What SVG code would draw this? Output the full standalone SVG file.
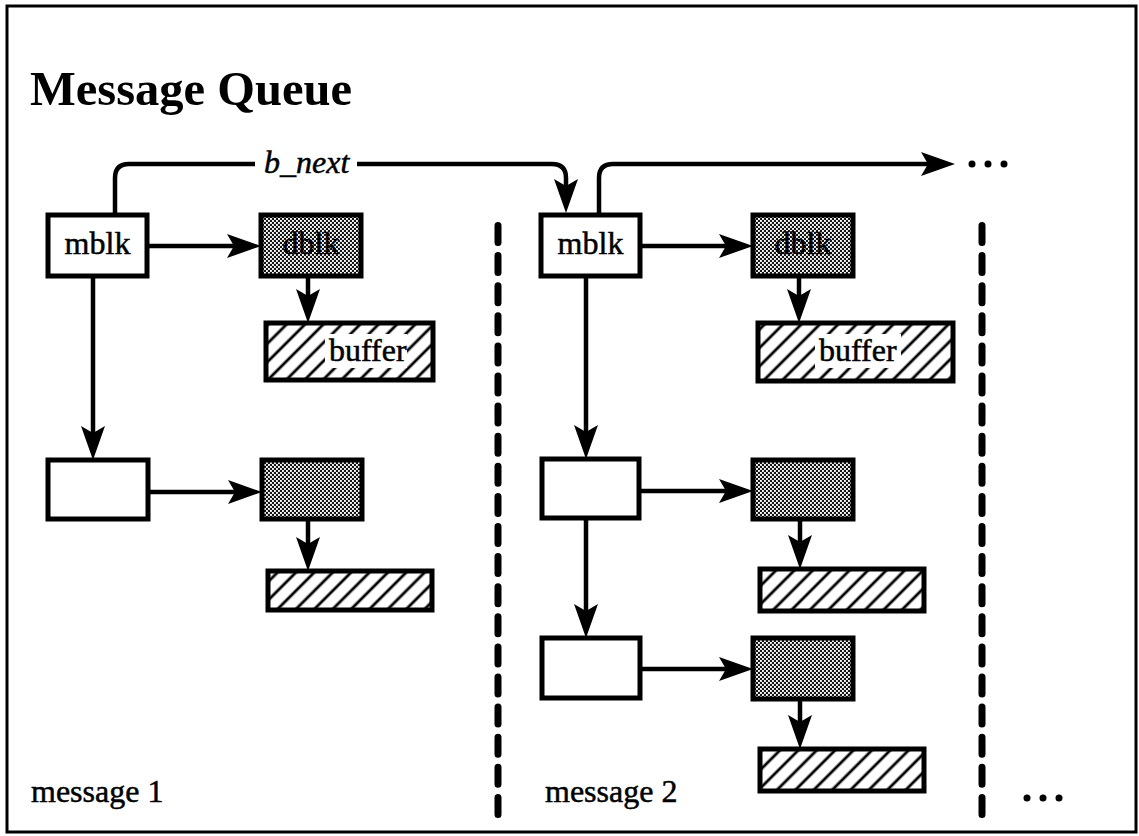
<svg xmlns="http://www.w3.org/2000/svg" width="1139" height="836" viewBox="0 0 1139 836">
<style>
  .box { fill: #fff; stroke: #000; stroke-width: 5; }
  .dblk { fill: url(#dither); stroke: #000; stroke-width: 5; }
  .buf { fill: url(#hatch); stroke: #000; stroke-width: 5; }
  .conn { fill: none; stroke: #000; stroke-width: 4.5; marker-end: url(#arrow); }
  .plain { fill: none; stroke: #000; stroke-width: 4.5; }
  .sep { stroke: #000; stroke-width: 7; stroke-linecap: round; stroke-dasharray: 17 13.1; }
  .t { font-family: "Liberation Serif", "Times New Roman", serif; font-size: 32px; fill: #000; stroke: #000; stroke-width: 0.5; }
  .td { font-family: "Liberation Serif", "Times New Roman", serif; font-size: 32px; fill: url(#dither2); stroke: #000; stroke-width: 0.6; }
  .title { font-family: "Liberation Serif", "Times New Roman", serif; font-size: 48.5px; font-weight: bold; fill: #000; }
</style>
<defs>
  <marker id="arrow" markerUnits="userSpaceOnUse" markerWidth="36" markerHeight="26" refX="23" refY="12" orient="auto" overflow="visible">
    <path d="M0,0 L34,12 L0,24 L7,12 Z" fill="#000"/>
  </marker>
  <pattern id="hatch" width="13" height="13" patternUnits="userSpaceOnUse" patternTransform="rotate(45)">
    <rect width="13" height="13" fill="#fff"/>
    <line x1="3" y1="0" x2="3" y2="13" stroke="#000" stroke-width="2.8"/>
  </pattern>
  <pattern id="dither" width="4" height="4" patternUnits="userSpaceOnUse">
    <rect width="4" height="4" fill="#151515"/>
    <rect x="0" y="0" width="1.9" height="1.9" fill="#fff"/>
    <rect x="2" y="2" width="1.9" height="1.9" fill="#fff"/>
  </pattern>
  <pattern id="dither2" width="4" height="4" patternUnits="userSpaceOnUse">
    <rect width="4" height="4" fill="#000"/>
    <rect x="0" y="0" width="0.8" height="0.8" fill="#fff"/>
  </pattern>
</defs>

<rect x="7" y="6" width="1129" height="826" fill="#fff" stroke="#000" stroke-width="3"/>

<text class="title" x="30" y="105">Message Queue</text>

<g id="separators">
  <line class="sep" x1="498" y1="225.5" x2="498" y2="814.5"/>
  <line class="sep" x1="982" y1="225.5" x2="982" y2="814.5"/>
</g>

<g id="connectors">
  <path class="plain" d="M115,215 V178 Q115,164 129,164 H255"/>
  <text class="t" x="264" y="173" font-style="italic">b_next</text>
  <path class="conn" d="M357,164 H552 Q566,164 566,178 V202"/>
  <path class="conn" d="M599,215 V178 Q599,164 613,164 H944"/>
  <g id="more-top">
    <circle cx="972" cy="164" r="3.5"/>
    <circle cx="988" cy="164" r="3.5"/>
    <circle cx="1004" cy="164" r="3.5"/>
  </g>
  <path class="conn" d="M147,246 H250"/>
  <path class="conn" d="M308,276 V312"/>
  <path class="conn" d="M93,276 V449"/>
  <path class="conn" d="M148,492 H251"/>
  <path class="conn" d="M308,519 V560"/>
  <path class="conn" d="M640,246 H742"/>
  <path class="conn" d="M799,276 V312"/>
  <path class="conn" d="M586,276 V448"/>
  <path class="conn" d="M639,491 H742"/>
  <path class="conn" d="M586,518 V627"/>
  <path class="conn" d="M640,669 H742"/>
  <path class="conn" d="M800,519 V558"/>
  <path class="conn" d="M800,699 V738"/>
</g>

<g id="m1-mblk"><rect class="box" x="48" y="215" width="99" height="61"/><text class="t" x="97.5" y="254" text-anchor="middle">mblk</text></g>
<g id="m1-dblk"><rect class="dblk" x="261" y="215" width="100" height="61"/><text class="td" x="311" y="254" text-anchor="middle">dblk</text></g>
<g id="m1-buffer"><rect class="buf" x="266" y="323" width="167" height="57"/><rect x="325" y="334" width="82" height="34" fill="#fff"/><text class="t" x="329" y="361">buffer</text></g>
<g id="m1-mblk2"><rect class="box" x="48" y="460" width="100" height="59"/></g>
<g id="m1-dblk2"><rect class="dblk" x="262" y="460" width="100" height="59"/></g>
<g id="m1-buffer2"><rect class="buf" x="268" y="571" width="164" height="39"/></g>

<g id="m2-mblk"><rect class="box" x="541" y="215" width="99" height="61"/><text class="t" x="590.5" y="254" text-anchor="middle">mblk</text></g>
<g id="m2-dblk"><rect class="dblk" x="753" y="215" width="100" height="61"/><text class="td" x="803" y="254" text-anchor="middle">dblk</text></g>
<g id="m2-buffer"><rect class="buf" x="758" y="323" width="195" height="58"/><rect x="815" y="334" width="86" height="34" fill="#fff"/><text class="t" x="819" y="361">buffer</text></g>
<g id="m2-mblk2"><rect class="box" x="542" y="459" width="97" height="59"/></g>
<g id="m2-dblk2"><rect class="dblk" x="753" y="460" width="100" height="59"/></g>
<g id="m2-buffer2"><rect class="buf" x="760" y="569" width="164" height="42"/></g>
<g id="m2-mblk3"><rect class="box" x="542" y="638" width="98" height="60"/></g>
<g id="m2-dblk3"><rect class="dblk" x="753" y="638" width="100" height="61"/></g>
<g id="m2-buffer3"><rect class="buf" x="760" y="749" width="164" height="42"/></g>

<g id="labels">
  <text class="t" x="31" y="802">message 1</text>
  <text class="t" x="545" y="802">message 2</text>
  <circle cx="1027" cy="798" r="3.5"/>
  <circle cx="1043" cy="798" r="3.5"/>
  <circle cx="1059" cy="798" r="3.5"/>
</g>
</svg>
